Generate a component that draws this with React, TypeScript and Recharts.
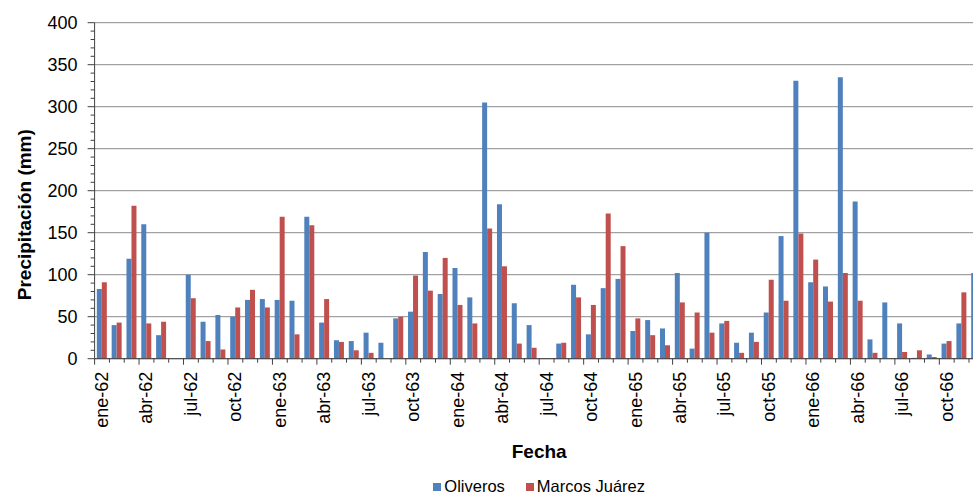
import React from 'react';
import { BarChart, Bar, XAxis, YAxis, CartesianGrid, Legend, Label } from 'recharts';

const FONT = 'Arial, "Liberation Sans", sans-serif';

const MONTHS = ['ene', 'feb', 'mar', 'abr', 'may', 'jun', 'jul', 'ago', 'sep', 'oct', 'nov', 'dic'];
const YEARS = ['62', '63', '64', '65', '66'];
const fechas = YEARS.flatMap((y) => MONTHS.map((m) => `${m}-${y}`));

// precipitación mensual (mm), ene-62 .. dic-66
const oliveros = [
  83, 40, 119, 160, 28, 0, 100, 44, 52, 50, 70, 71,
  70, 69, 169, 43, 22, 21, 31, 19, 48, 56, 127, 77,
  108, 73, 305, 184, 66, 40, 0, 18, 88, 29, 84, 95,
  33, 46, 36, 102, 12, 150, 42, 19, 31, 55, 146, 331,
  91, 86, 335, 187, 23, 67, 42, 1, 5, 18, 42, 102,
];
const marcosJuarez = [
  91, 43, 182, 42, 44, 0, 72, 21, 11, 61, 82, 61,
  169, 29, 159, 71, 20, 10, 7, 0, 50, 99, 81, 120,
  64, 42, 155, 110, 18, 13, 0, 19, 73, 64, 173, 134,
  48, 28, 16, 67, 55, 31, 45, 7, 20, 94, 69, 149,
  118, 68, 102, 69, 7, 0, 8, 10, 2, 21, 79, null,
];

const SERIES_ORDER = ['oliveros', 'marcos'];
const yTicks = Array.from({ length: 41 }, (_, i) => i * 10);
const gridValues = [0, 50, 100, 150, 200, 250, 300, 350, 400];

const data = fechas.map((fecha, i) => ({
  fecha,
  oliveros: oliveros[i],
  marcos: marcosJuarez[i],
}));

const W = 1000;
const H = 494;
const M = { top: 22.7, right: 16.2, bottom: 25.3, left: 0 };
const Y_W = 94.6;
const X_H = 110;
const PLOT_W = W - M.left - M.right - Y_W;
const HALF_BAND = PLOT_W / fechas.length / 2;
const AXIS = '#404040';

const XTick = (props: any) => {
  const { x, y, payload, index } = props;
  const axisY = y - 13;
  const major = index % 3 === 0;
  return (
    <g>
      <line x1={x - HALF_BAND} x2={x - HALF_BAND} y1={axisY} y2={axisY + (major ? 6 : 4)} stroke={AXIS} />
      {major && (
        <text
          x={x}
          y={y}
          transform={`rotate(-90, ${x}, ${y})`}
          textAnchor="end"
          dominantBaseline="central"
          fontSize={18}
          fontFamily={FONT}
          fill="#000"
        >
          {payload.value}
        </text>
      )}
    </g>
  );
};

const YTick = (props: any) => {
  const { x, y, payload } = props;
  const axisX = x + 17;
  const major = payload.value % 50 === 0;
  return (
    <g>
      <line x1={axisX - (major ? 7 : 4)} x2={axisX} y1={y} y2={y} stroke={AXIS} />
      {major && (
        <text x={x} y={y} textAnchor="end" dominantBaseline="central" fontSize={18} fontFamily={FONT} fill="#000">
          {payload.value}
        </text>
      )}
    </g>
  );
};

const YTitle = (props: any) => {
  const { viewBox } = props;
  const cx = viewBox.x + 25;
  const cy = viewBox.y + viewBox.height / 2 + 24;
  return (
    <text
      x={cx}
      y={cy}
      transform={`rotate(-90, ${cx}, ${cy})`}
      textAnchor="middle"
      dominantBaseline="central"
      fontSize={19}
      fontWeight="bold"
      fontFamily={FONT}
      fill="#000"
    >
      Precipitación (mm)
    </text>
  );
};

const LegendContent = (props: any) => {
  const items = [...(props.payload || [])].sort(
    (a: any, b: any) => SERIES_ORDER.indexOf(a.dataKey) - SERIES_ORDER.indexOf(b.dataKey)
  );
  return (
    <div
      style={{
        display: 'flex',
        justifyContent: 'center',
        alignItems: 'center',
        fontFamily: FONT,
        fontSize: 16.5,
        lineHeight: '19px',
        color: '#000',
      }}
    >
      {items.map((entry: any, i: number) => (
        <span key={entry.value} style={{ display: 'flex', alignItems: 'center', marginLeft: i === 0 ? 0 : 21 }}>
          <span style={{ width: 8, height: 8, background: entry.color, marginRight: 3, display: 'inline-block' }} />
          {entry.value}
        </span>
      ))}
    </div>
  );
};

export default function App() {
  return (
    <div
      style={{
        position: 'absolute',
        left: 0,
        top: 0,
        width: 973,
        height: 494,
        overflow: 'hidden',
        background: '#fff',
        fontFamily: FONT,
      }}
    >
      <BarChart width={W} height={H} data={data} margin={M} barCategoryGap="15%" barGap={0}>
        <CartesianGrid vertical={false} horizontalValues={gridValues} stroke="#8c8c8c" />
        <XAxis
          dataKey="fecha"
          interval={0}
          height={X_H}
          tickSize={6}
          tickMargin={7}
          tickLine={{ stroke: 'none' }}
          axisLine={{ stroke: AXIS }}
          tick={<XTick />}
        >
          <Label
            value="Fecha"
            position="insideBottom"
            offset={10.7}
            style={{ fontSize: 19, fontWeight: 'bold', fontFamily: FONT, fill: '#000' }}
          />
        </XAxis>
        <YAxis
          type="number"
          domain={[0, 400]}
          ticks={yTicks}
          interval={0}
          width={Y_W}
          tickSize={6}
          tickMargin={11}
          tickLine={{ stroke: 'none' }}
          axisLine={{ stroke: AXIS }}
          tick={<YTick />}
        >
          <Label content={<YTitle />} />
        </YAxis>
        <Legend
          verticalAlign="middle"
          align="center"
          content={<LegendContent />}
          wrapperStyle={{ left: M.left + Y_W, top: 477, width: PLOT_W }}
        />
        <Bar dataKey="oliveros" name="Oliveros" fill="#4F81BD" isAnimationActive={false} />
        <Bar dataKey="marcos" name="Marcos Juárez" fill="#C0504D" isAnimationActive={false} />
      </BarChart>
    </div>
  );
}
